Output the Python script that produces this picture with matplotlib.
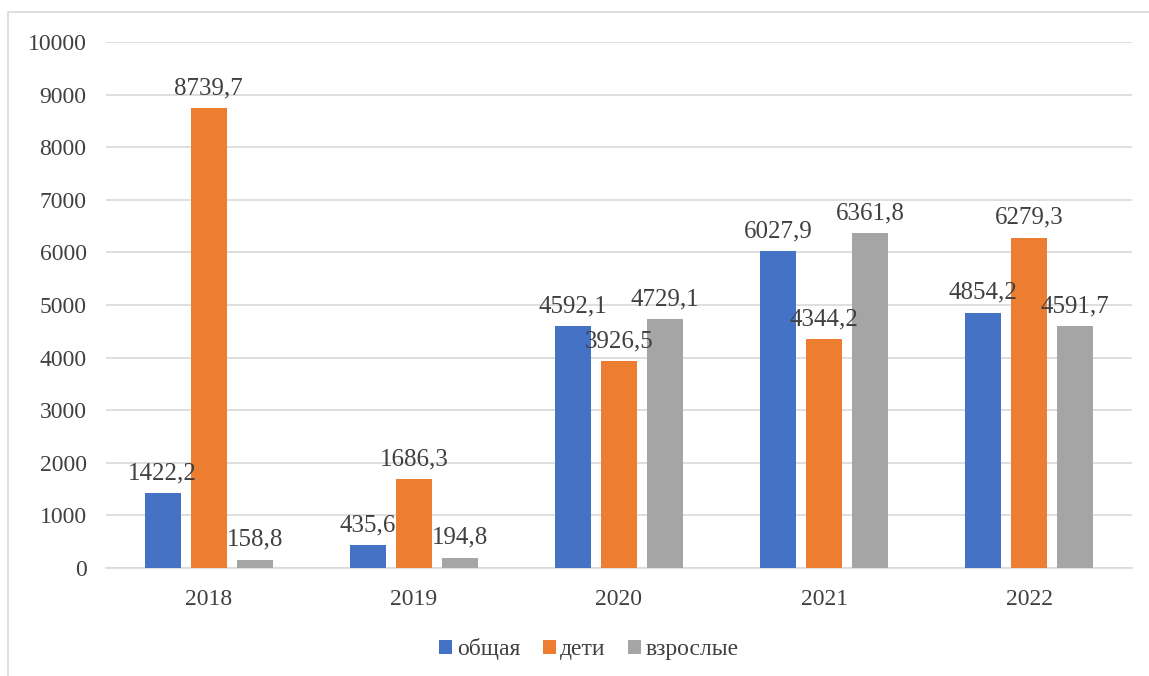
import matplotlib.pyplot as plt
import numpy as np
from matplotlib.patches import Rectangle

years = ['2018', '2019', '2020', '2021', '2022']
obshchaya = [1422.2, 435.6, 4592.1, 6027.9, 4854.2]
deti = [8739.7, 1686.3, 3926.5, 4344.2, 6279.3]
vzroslye = [158.8, 194.8, 4729.1, 6361.8, 4591.7]
series_names = ['общая', 'дети', 'взрослые']
colors = ['#4472C4', '#ED7D31', '#A5A5A5']

plt.rcParams['font.family'] = ['Liberation Serif', 'DejaVu Serif']
text_col = '#404040'

fig = plt.figure(figsize=(11.49, 6.76), dpi=100)
# light frame around the chart area, as in the source image
fig.patches.append(Rectangle((8 / 1149, -0.01), 1.2, (676 - 12) / 676 + 0.01,
                             transform=fig.transFigure, fill=False,
                             edgecolor='#D9D9D9', linewidth=1.2))
ax = fig.add_axes([106 / 1149, 108 / 676, 1026 / 1149, 526 / 676])

x = np.arange(len(years))
width = 0.175
step = 0.224
for i, (vals, name) in enumerate(zip([obshchaya, deti, vzroslye], series_names)):
    pos = x + (i - 1) * step
    bars = ax.bar(pos, vals, width, color=colors[i], label=name, zorder=3)
    for b, v in zip(bars, vals):
        ax.text(b.get_x() + b.get_width() / 2, v + 170, f'{v:.1f}'.replace('.', ','),
                ha='center', va='bottom', fontsize=18, color=text_col, zorder=4)

ax.set_xlim(-0.5, len(years) - 0.5)
ax.set_ylim(0, 10000)
ax.set_yticks(range(0, 10001, 1000))
ax.set_xticks(x)
ax.set_xticklabels(years)
ax.yaxis.grid(True, color='#D9D9D9', linewidth=1.2, zorder=0)
ax.tick_params(axis='both', length=0, labelsize=17, labelcolor=text_col)
ax.tick_params(axis='y', pad=14)
ax.tick_params(axis='x', pad=15)
for s in ['top', 'right', 'left']:
    ax.spines[s].set_visible(False)
ax.spines['bottom'].set_color('#D9D9D9')
ax.spines['bottom'].set_linewidth(1.2)

leg = fig.legend(loc='center', bbox_to_anchor=(589 / 1149, 27 / 676), ncol=3,
                 frameon=False, fontsize=17, handlelength=0.55, handleheight=0.55,
                 handletextpad=0.2, columnspacing=0.95)
for t in leg.get_texts():
    t.set_color(text_col)

fig.savefig('out.png', dpi=100)
